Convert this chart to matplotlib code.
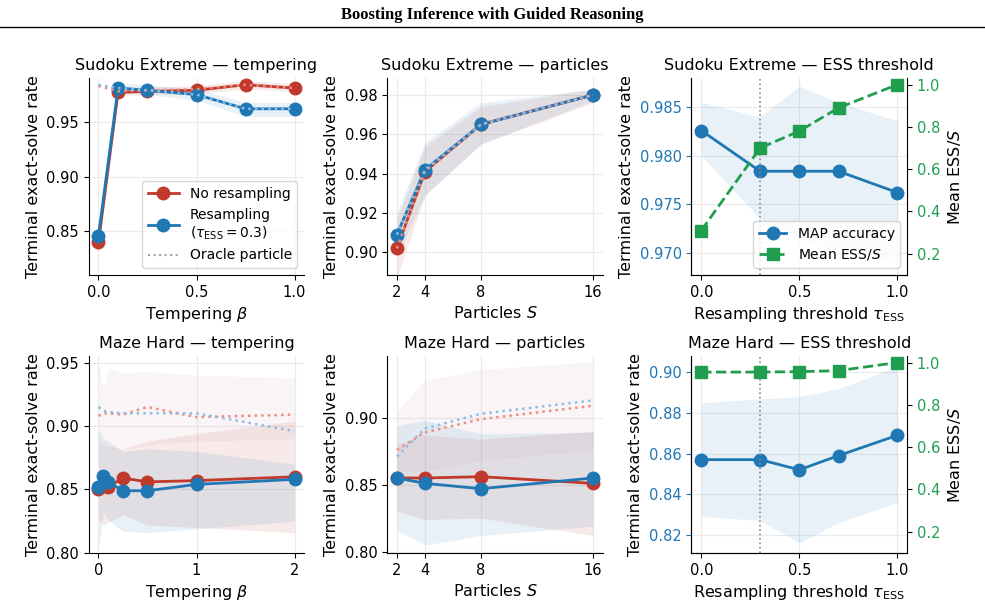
import numpy as np
import matplotlib
matplotlib.use("Agg")
import matplotlib.pyplot as plt
from matplotlib.lines import Line2D

RED = "#c0392b"
BLUE = "#1f77b4"
GREEN = "#1f9e4f"

# Sudoku tempering
sud_beta = [0, 0.1, 0.25, 0.5, 0.75, 1.0]
sud_t_nores = [0.840, 0.977, 0.978, 0.979, 0.984, 0.981]
sud_t_res = [0.846, 0.981, 0.979, 0.975, 0.962, 0.962]
sud_t_or_nores = [0.983, 0.978, 0.979, 0.980, 0.984, 0.981]
sud_t_or_res = [0.984, 0.981, 0.979, 0.975, 0.962, 0.962]
sud_t_nores_lo = [0.830, 0.974, 0.975, 0.976, 0.980, 0.978]
sud_t_nores_hi = [0.850, 0.981, 0.982, 0.983, 0.988, 0.985]
sud_t_res_lo = [0.836, 0.977, 0.975, 0.970, 0.955, 0.955]
sud_t_res_hi = [0.856, 0.986, 0.984, 0.980, 0.968, 0.968]

# Sudoku particles
parts = [2, 4, 8, 16]
sud_p_nores = [0.902, 0.941, 0.965, 0.980]
sud_p_res = [0.909, 0.942, 0.965, 0.980]
sud_p_nores_lo = [0.887, 0.929, 0.955, 0.976]
sud_p_nores_hi = [0.917, 0.954, 0.974, 0.983]
sud_p_res_lo = [0.898, 0.929, 0.955, 0.977]
sud_p_res_hi = [0.920, 0.956, 0.976, 0.983]

# Maze tempering
maze_beta = [0, 0.05, 0.1, 0.25, 0.5, 1, 2]
maze_t_nores = [0.850, 0.853, 0.852, 0.859, 0.856, 0.857, 0.860]
maze_t_res = [0.852, 0.861, 0.856, 0.849, 0.849, 0.854, 0.858]
maze_t_or_nores = [0.908, 0.910, 0.910, 0.909, 0.915, 0.907, 0.909]
maze_t_or_res = [0.915, 0.912, 0.911, 0.910, 0.910, 0.910, 0.896]
maze_t_nores_lo = [0.826, 0.822, 0.824, 0.830, 0.822, 0.820, 0.816]
maze_t_nores_hi = [0.887, 0.885, 0.884, 0.882, 0.888, 0.894, 0.904]
maze_t_res_lo = [0.805, 0.832, 0.826, 0.817, 0.816, 0.819, 0.825]
maze_t_res_hi = [0.897, 0.890, 0.888, 0.880, 0.882, 0.880, 0.870]
maze_t_or_lo = [0.886, 0.884, 0.882, 0.882, 0.885, 0.888, 0.890]
maze_t_or_hi = [0.950, 0.930, 0.946, 0.942, 0.943, 0.940, 0.938]

# Maze particles
maze_p_nores = [0.855, 0.855, 0.856, 0.851]
maze_p_res = [0.855, 0.851, 0.847, 0.855]
maze_p_or_nores = [0.876, 0.889, 0.899, 0.909]
maze_p_or_res = [0.871, 0.892, 0.903, 0.913]
maze_p_nores_lo = [0.830, 0.824, 0.825, 0.812]
maze_p_nores_hi = [0.880, 0.887, 0.884, 0.890]
maze_p_res_lo = [0.816, 0.805, 0.812, 0.819]
maze_p_res_hi = [0.894, 0.898, 0.888, 0.889]
maze_p_or_lo = [0.860, 0.860, 0.868, 0.876]
maze_p_or_hi = [0.905, 0.928, 0.936, 0.942]

# ESS threshold
tau = [0.0, 0.3, 0.5, 0.7, 1.0]
sud_map = [0.9826, 0.9784, 0.9784, 0.9784, 0.9762]
sud_map_lo = [0.9800, 0.9735, 0.9715, 0.9700, 0.9690]
sud_map_hi = [0.9855, 0.9840, 0.9872, 0.9855, 0.9836]
sud_ess = [0.31, 0.70, 0.78, 0.89, 1.0]
maze_map = [0.857, 0.857, 0.852, 0.859, 0.869]
maze_map_lo = [0.829, 0.827, 0.816, 0.826, 0.836]
maze_map_hi = [0.885, 0.887, 0.888, 0.892, 0.903]
maze_ess = [0.955, 0.955, 0.957, 0.962, 1.0]

plt.rcParams["font.family"] = "DejaVu Sans"
plt.rcParams["font.size"] = 10.5

fig = plt.figure(figsize=(9.85, 6.11), dpi=100)
fig.text(0.5, 0.975, "Boosting Inference with Guided Reasoning", ha="center", va="center",
         family="Liberation Serif", weight="bold", fontsize=12)
fig.add_artist(Line2D([0.0, 1.0], [0.955, 0.955], color="black", lw=1.0))

lefts = [0.090, 0.393, 0.702]
bottoms = [0.550, 0.095]
W, H = 0.219, 0.322
axes = [[fig.add_axes([l, b, W, H]) for l in lefts] for b in bottoms]


def style(ax):
    ax.grid(True, color="#ebebeb", lw=0.8)
    ax.set_axisbelow(True)
    ax.spines["top"].set_visible(False)
    ax.spines["right"].set_visible(False)


def sweep(ax, x, nores, res, nres_lo, nres_hi, res_lo, res_hi, or_nores, or_res):
    ax.fill_between(x, nres_lo, nres_hi, color=RED, alpha=0.10, lw=0)
    ax.fill_between(x, res_lo, res_hi, color=BLUE, alpha=0.10, lw=0)
    ax.plot(x, nores, "o-", color=RED, lw=2, ms=9, label="No resampling")
    ax.plot(x, res, "o-", color=BLUE, lw=2, ms=9, label="Resampling\n($\\tau_{\\mathrm{ESS}}=0.3$)")
    if or_nores is not None:
        ax.plot(x, or_nores, ":", color="#f08c80", lw=1.8)
        ax.plot(x, or_res, ":", color="#8fbce6", lw=1.8)
    style(ax)
    ax.set_ylabel("Terminal exact-solve rate", fontsize=11.5)


# Sudoku tempering
ax = axes[0][0]
sweep(ax, sud_beta, sud_t_nores, sud_t_res, sud_t_nores_lo, sud_t_nores_hi,
      sud_t_res_lo, sud_t_res_hi, sud_t_or_nores, sud_t_or_res)
ax.plot([], [], ":", color="#9aa3b0", lw=1.5, label="Oracle particle")
ax.set_ylim(0.81, 0.99)
ax.set_yticks([0.85, 0.90, 0.95])
ax.set_xticks([0.0, 0.5, 1.0])
ax.set_title("Sudoku Extreme — tempering", fontsize=11.5)
ax.set_xlabel("Tempering $\\beta$", fontsize=11.5)
ax.legend(loc="lower right", fontsize=10, handlelength=2.2)

# Sudoku particles
ax = axes[0][1]
sweep(ax, parts, sud_p_nores, sud_p_res, sud_p_nores_lo, sud_p_nores_hi,
      sud_p_res_lo, sud_p_res_hi, sud_p_nores, sud_p_res)
ax.set_ylim(0.8885, 0.9885)
ax.set_yticks([0.90, 0.92, 0.94, 0.96, 0.98])
ax.set_xticks(parts)
ax.set_title("Sudoku Extreme — particles", fontsize=11.5)
ax.set_xlabel("Particles $S$", fontsize=11.5)

# Maze tempering
ax = axes[1][0]
ax.fill_between(maze_beta, maze_t_or_lo, maze_t_or_hi, color="#c8a0b0", alpha=0.10, lw=0)
sweep(ax, maze_beta, maze_t_nores, maze_t_res, maze_t_nores_lo, maze_t_nores_hi,
      maze_t_res_lo, maze_t_res_hi, maze_t_or_nores, maze_t_or_res)
ax.set_ylim(0.80, 0.955)
ax.set_yticks([0.80, 0.85, 0.90, 0.95])
ax.set_xticks([0, 1, 2])
ax.set_title("Maze Hard — tempering", fontsize=11.5)
ax.set_xlabel("Tempering $\\beta$", fontsize=11.5)

# Maze particles
ax = axes[1][1]
ax.fill_between(parts, maze_p_or_lo, maze_p_or_hi, color="#c8a0b0", alpha=0.10, lw=0)
sweep(ax, parts, maze_p_nores, maze_p_res, maze_p_nores_lo, maze_p_nores_hi,
      maze_p_res_lo, maze_p_res_hi, maze_p_or_nores, maze_p_or_res)
ax.set_ylim(0.799, 0.946)
ax.set_yticks([0.80, 0.85, 0.90])
ax.set_xticks(parts)
ax.set_title("Maze Hard — particles", fontsize=11.5)
ax.set_xlabel("Particles $S$", fontsize=11.5)


def ess_panel(ax, acc, lo, hi, ess, title, ylim, yticks, legend):
    ax.fill_between(tau, lo, hi, color=BLUE, alpha=0.10, lw=0)
    l1, = ax.plot(tau, acc, "o-", color=BLUE, lw=2, ms=9, label="MAP accuracy")
    ax.axvline(0.3, color="#888888", ls=":", lw=1.2)
    style(ax)
    ax.set_ylim(*ylim)
    ax.set_yticks(yticks)
    ax.tick_params(axis="y", colors=BLUE, labelcolor=BLUE)
    ax.set_xticks([0.0, 0.5, 1.0])
    ax.set_ylabel("Terminal exact-solve rate", fontsize=11.5)
    ax.set_xlabel("Resampling threshold $\\tau_{\\mathrm{ESS}}$", fontsize=11.5)
    ax.set_title(title, fontsize=11.5)
    tw = ax.twinx()
    l2, = tw.plot(tau, ess, "s--", color=GREEN, lw=2, ms=9, label="Mean ESS/$S$")
    tw.set_ylim(0.1, 1.03)
    tw.set_yticks([0.2, 0.4, 0.6, 0.8, 1.0])
    tw.tick_params(axis="y", labelcolor=GREEN)
    tw.spines["top"].set_visible(False)
    tw.set_ylabel("Mean ESS/$S$", fontsize=11.5)
    if legend:
        ax.legend([l1, l2], [l1.get_label(), l2.get_label()], loc="lower right", fontsize=10)


ess_panel(axes[0][2], sud_map, sud_map_lo, sud_map_hi, sud_ess, "Sudoku Extreme — ESS threshold",
          (0.9677, 0.9880), [0.970, 0.975, 0.980, 0.985], True)
ess_panel(axes[1][2], maze_map, maze_map_lo, maze_map_hi, maze_ess, "Maze Hard — ESS threshold",
          (0.811, 0.908), [0.82, 0.84, 0.86, 0.88, 0.90], False)

fig.savefig("out.png", dpi=100)
